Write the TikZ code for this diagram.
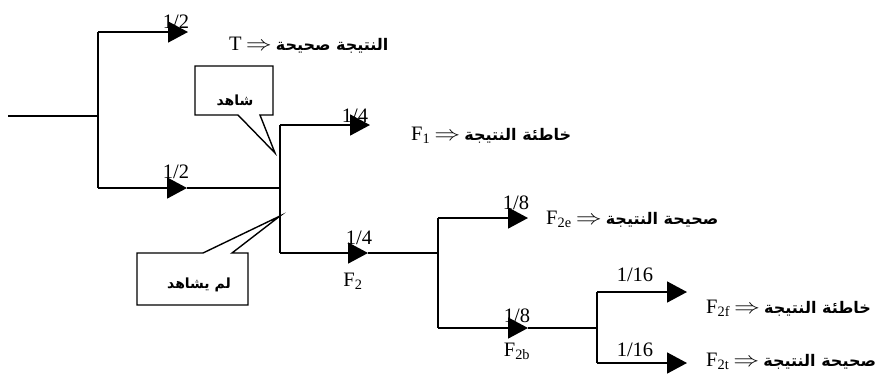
\documentclass[tikz,border=0pt]{standalone}
\usepackage{fontspec}
\usepackage{graphicx}
\setmainfont{Liberation Serif}
\newfontfamily\arabicfont[Script=Arabic]{DejaVu Sans}
\TeXXeTstate=1
\usetikzlibrary{arrows.meta}

% Arabic phrase, set right to left
\newcommand\artext[1]{{\arabicfont\bfseries\fontsize{14}{17}\selectfont\beginR #1\endR}}
\newcommand\arbig[1]{{\arabicfont\bfseries\fontsize{16}{19}\selectfont\beginR #1\endR}}
% implication arrow between a branch name and its result
\newcommand\implies{\hspace{0.2em}\scalebox{1.25}[1]{$\Rightarrow$}\hspace{0.2em}}

\tikzset{
  wire/.style={line width=1.7pt},
  tipped/.style={wire, -{Triangle[length=20pt,width=21pt]}},
  prob/.style={inner sep=0pt, font=\fontsize{20.5}{23}\selectfont},
  outcome/.style={anchor=west, inner sep=0pt, font=\fontsize{20.5}{23}\selectfont},
  callout/.style={line width=1.4pt, fill=white, line join=miter},
}

\begin{document}
\begin{tikzpicture}[x=1pt, y=-1pt]
\useasboundingbox[fill=white] (0,0) rectangle (886,376);

% junction and tip coordinates of the tree
\coordinate (in)  at (8,116);
\coordinate (j0)  at (98,116);
\coordinate (j0t) at (98,32);
\coordinate (j0b) at (98,188);
\coordinate (t1)  at (188,32);
\coordinate (m1)  at (187,188);
\coordinate (j1)  at (280,188);
\coordinate (j1t) at (280,125);
\coordinate (j1b) at (280,253);
\coordinate (t2)  at (370,125);
\coordinate (m2)  at (368,253);
\coordinate (j2)  at (438,253);
\coordinate (j2t) at (438,218);
\coordinate (j2b) at (438,328);
\coordinate (t3)  at (528,218);
\coordinate (m3)  at (528,328);
\coordinate (j3)  at (597,328);
\coordinate (j3t) at (597,292);
\coordinate (j3b) at (597,363);
\coordinate (t4)  at (687,292);
\coordinate (t5)  at (687,363);

% first split
\draw[wire] (in) -- (j0);
\draw[wire] (j0t) -- (j0b);
\draw[tipped] (j0t) -- (t1);
\draw[tipped] (j0b) -- (m1);
\draw[wire] (m1) -- (j1);

% second split
\draw[wire] (j1t) -- (j1b);
\draw[tipped] (j1t) -- (t2);
\draw[tipped] (j1b) -- (m2);
\draw[wire] (m2) -- (j2);

% third split
\draw[wire] (j2t) -- (j2b);
\draw[tipped] (j2t) -- (t3);
\draw[tipped] (j2b) -- (m3);
\draw[wire] (m3) -- (j3);

% fourth split
\draw[wire] (j3t) -- (j3b);
\draw[tipped] (j3t) -- (t4);
\draw[tipped] (j3b) -- (t5);

% probabilities
\node[prob] (p1) at (176,22)  {1/2};
\node[prob] (p2) at (176,172) {1/2};
\node[prob] (p3) at (355,116) {1/4};
\node[prob] (p4) at (359,238) {1/4};
\node[prob] (p5) at (516,203) {1/8};
\node[prob] (p6) at (517,316) {1/8};
\node[prob] (p7) at (635,275) {1/16};
\node[prob] (p8) at (635,350) {1/16};

% branch names
\node[prob] (nF2)  at (353,281) {F\textsubscript{2}};
\node[prob] (nF2b) at (517,351) {F\textsubscript{2b}};

% outcomes
\node[outcome] (oT)   at (229,45)  {T\implies\arbig{النتيجة صحيحة}};
\node[outcome] (oF1)  at (411,135) {F\textsubscript{1}\implies\arbig{خاطئة النتيجة}};
\node[outcome] (oF2e) at (546,219) {F\textsubscript{2e}\implies\arbig{صحيحة النتيجة}};
\node[outcome] (oF2f) at (706,308) {F\textsubscript{2f}\implies\arbig{خاطئة النتيجة}};
\node[outcome] (oF2t) at (706,361) {F\textsubscript{2t}\implies\arbig{صحيحة النتيجة}};

% callout: seen
\draw[callout] (195,66) -- (273,66) -- (273,115) -- (260,115) -- (275,153)
  -- (238,115) -- (195,115) -- cycle;
\node[inner sep=0pt] (seen) at (235,100) {\artext{شاهد}};

% callout: not seen
\draw[callout] (137,253) -- (203,253) -- (280,216) -- (232,253) -- (248,253)
  -- (248,305) -- (137,305) -- cycle;
\node[inner sep=0pt] (unseen) at (199,285) {\artext{لم يشاهد}};
\end{tikzpicture}
\end{document}
